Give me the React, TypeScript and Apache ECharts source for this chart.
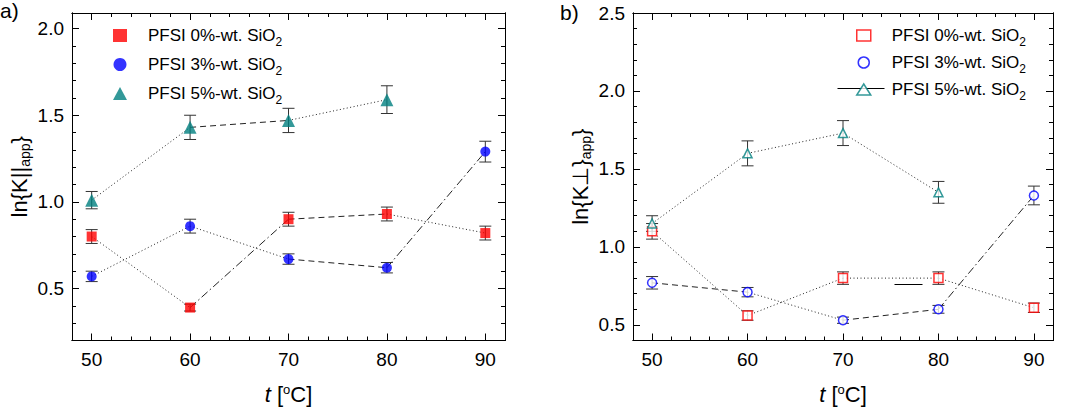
import { useEffect, useRef } from "react";
import * as echarts from "echarts";

const temps = [50, 60, 70, 80, 90];
const seriesNames = ["PFSI 0%-wt. SiO2", "PFSI 3%-wt. SiO2", "PFSI 5%-wt. SiO2"];
const colors = ["#ff0000", "#0000ff", "#008080"];

// panel a) parallel
const parRed = [0.8, 0.39, 0.9, 0.93, 0.82];
const parRedErr = [0.04, 0.02, 0.04, 0.04, 0.04];
const parBlue = [0.57, 0.86, 0.67, 0.62, 1.29];
const parBlueErr = [0.03, 0.04, 0.03, 0.03, 0.06];
const parTeal = [1.01, 1.43, 1.47, 1.59];
const parTealErr = [0.05, 0.07, 0.07, 0.08];
const parStyles = [
  ["dot", "dashdot", "dash", "dot"],
  ["dot", "dot", "dash", "dashdot"],
  ["dot", "dash", "dot"],
];

// panel b) perpendicular
const perRed = [1.1, 0.56, 0.8, 0.8, 0.61];
const perRedErr = [0.05, 0.03, 0.04, 0.04, 0.03];
const perBlue = [0.77, 0.71, 0.53, 0.6, 1.33];
const perBlueErr = [0.04, 0.03, 0.02, 0.025, 0.06];
const perTeal = [1.15, 1.6, 1.73, 1.35];
const perTealErr = [0.05, 0.08, 0.08, 0.07];
const perStyles = [
  ["dot", "dot", "dot", "dot"],
  ["dash", "dot", "dash", "dashdot"],
  ["dot", "dot", "dot"],
];

const xMajor = [50, 60, 70, 80, 90];
const xMinor = [48, 52, 54, 56, 58, 62, 64, 66, 68, 72, 74, 76, 78, 82, 84, 86, 88, 92];
const yMajorA = [0.5, 1.0, 1.5, 2.0];
const yMajorB = [0.5, 1.0, 1.5, 2.0, 2.5];

const dashes: Record<string, number[]> = {
  dot: [1, 2.5],
  dash: [6, 4],
  dashdot: [8, 3, 1.5, 3],
};

const font = "Liberation Sans, Arial, sans-serif";

function minorY(min: number, max: number) {
  const out: number[] = [];
  for (let i = Math.ceil(min * 10); i <= Math.floor(max * 10); i++) {
    if (i % 5 !== 0) out.push(i / 10);
  }
  return out;
}

export default function App() {
  const ref = useRef<HTMLDivElement | null>(null);

  useEffect(() => {
    if (!ref.current) return;
    const chart = echarts.init(ref.current, undefined, { renderer: "svg" });

    const xAxis: any[] = [];
    const yAxis: any[] = [];
    const series: any[] = [];
    const panels = [
      { grid: 0, ymin: 0.2, ymax: 2.09, major: yMajorA, data: [parRed, parBlue, parTeal], err: [parRedErr, parBlueErr, parTealErr], styles: parStyles, hollow: false },
      { grid: 1, ymin: 0.4, ymax: 2.5, major: yMajorB, data: [perRed, perBlue, perTeal], err: [perRedErr, perBlueErr, perTealErr], styles: perStyles, hollow: true },
    ];

    panels.forEach((p) => {
      const xBase = xAxis.length;
      const yBase = yAxis.length;
      ["bottom", "top"].forEach((pos) => {
        [true, false].forEach((major) => {
          xAxis.push({
            type: "value", gridIndex: p.grid, position: pos, min: 48, max: 92,
            axisLine: { show: true, onZero: false, lineStyle: { color: "#000", width: 1 } },
            axisTick: { show: true, inside: true, length: major ? 7 : 4, customValues: major ? xMajor : xMinor, lineStyle: { color: "#000" } },
            axisLabel: { show: major && pos === "bottom", customValues: xMajor, color: "#000", fontSize: 19, fontFamily: font, margin: 9 },
            splitLine: { show: false },
            name: major && pos === "bottom" ? "{i|t} [{sup|o}C]" : "",
            nameLocation: "middle", nameGap: 42,
            nameTextStyle: { fontSize: 22, fontFamily: font, color: "#000", rich: { i: { fontStyle: "italic", fontSize: 22, fontFamily: font }, sup: { fontSize: 13, verticalAlign: "top", padding: [0, 0, 10, 0], fontFamily: font } } },
          });
        });
      });
      ["left", "right"].forEach((pos) => {
        [true, false].forEach((major) => {
          yAxis.push({
            type: "value", gridIndex: p.grid, position: pos, min: p.ymin, max: p.ymax,
            axisLine: { show: true, onZero: false, lineStyle: { color: "#000", width: 1 } },
            axisTick: { show: true, inside: true, length: major ? 7 : 4, customValues: major ? p.major : minorY(p.ymin, p.ymax), lineStyle: { color: "#000" } },
            axisLabel: { show: major && pos === "left", customValues: p.major, color: "#000", fontSize: 19, fontFamily: font, formatter: (v: number) => v.toFixed(1) },
            splitLine: { show: false },
            name: major && pos === "left" ? (p.grid === 0 ? "{b|ln{K||}{s|app}}" : "ln{K⊥}{s|app}}") : "",
            nameLocation: "middle", nameGap: 40, nameRotate: 90,
            nameTextStyle: { fontSize: 22, fontFamily: font, color: "#000", rich: { b: { fontSize: 22, fontFamily: font, color: "#000" }, s: { fontSize: 14, fontFamily: font, padding: [12, 0, 0, 0] } } },
          });
        });
      });
      const xi = xBase;
      const yi = yBase;
      p.data.forEach((vals, si) => {
        const pts = vals.map((v, i) => [temps[i], v]);
        p.styles[si].forEach((st, k) => {
          series.push({
            type: "line", xAxisIndex: xi, yAxisIndex: yi, silent: true, symbol: "none",
            data: [pts[k], pts[k + 1]],
            lineStyle: { color: "#222", width: 1, type: dashes[st] },
            z: 1,
          });
        });
        series.push({
          type: "custom", xAxisIndex: xi, yAxisIndex: yi, silent: true, z: 2,
          data: vals.map((v, i) => [temps[i], v - p.err[si][i], v + p.err[si][i]]),
          renderItem: (_params: any, api: any) => {
            const lo = api.coord([api.value(0), api.value(1)]);
            const hi = api.coord([api.value(0), api.value(2)]);
            const w = 6;
            const st = { stroke: "#333", lineWidth: 1 };
            return {
              type: "group",
              children: [
                { type: "line", shape: { x1: lo[0], y1: lo[1], x2: hi[0], y2: hi[1] }, style: st },
                { type: "line", shape: { x1: lo[0] - w, y1: lo[1], x2: lo[0] + w, y2: lo[1] }, style: st },
                { type: "line", shape: { x1: hi[0] - w, y1: hi[1], x2: hi[0] + w, y2: hi[1] }, style: st },
              ],
            };
          },
        });
        series.push({
          name: seriesNames[si], type: "scatter", xAxisIndex: xi, yAxisIndex: yi, z: 3,
          symbol: ["rect", "circle", "triangle"][si],
          symbolSize: p.hollow ? 9 : [10, 10, 13][si],
          data: pts,
          itemStyle: p.hollow
            ? { color: "#fff", borderColor: colors[si], borderWidth: 1.5 }
            : { color: colors[si] },
        });
      });
    });

    const legendRich = { s: { fontSize: 12, fontFamily: font, padding: [13, 0, 0, 0] } };
    const fmt = (n: string) => n.replace("SiO2", "SiO{s|2}");
    const legendText = { fontSize: 17, fontFamily: font, color: "#000", padding: [0, 0, 0, 16], rich: legendRich };

    chart.setOption({
      animation: false,
      grid: [
        { left: 72, top: 13, width: 433, height: 330 },
        { left: 633, top: 13, width: 420, height: 331 },
      ],
      xAxis,
      yAxis,
      legend: [
        {
          left: 108, top: 22, orient: "vertical", itemGap: 8, itemWidth: 14, itemHeight: 13,
          data: seriesNames.map((n, i) => ({ name: n, itemStyle: { color: colors[i] } })),
          formatter: fmt, selectedMode: false, textStyle: legendText,
        },
        {
          left: 851, top: 22, orient: "vertical", itemGap: 6, itemWidth: 14, itemHeight: 11,
          data: seriesNames.map((n, i) => ({ name: n, itemStyle: { color: "#fff", borderColor: colors[i], borderWidth: 1.5 } })),
          formatter: fmt, selectedMode: false, textStyle: legendText,
        },
      ],
      graphic: [
        { type: "text", left: 0, top: 0, style: { text: "a)", fontSize: 21, fontFamily: font, fill: "#000" } },
        { type: "text", left: 560, top: 2, style: { text: "b)", fontSize: 21, fontFamily: font, fill: "#000" } },
        { type: "line", left: 835, top: 86, shape: { x1: 0, y1: 0, x2: 47, y2: 0 }, style: { stroke: "#000", lineWidth: 1 }, z: -1 },
        { type: "line", left: 892, top: 282, shape: { x1: 0, y1: 0, x2: 28, y2: 0 }, style: { stroke: "#000", lineWidth: 1 } },
      ],
      series,
    });

    return () => chart.dispose();
  }, []);

  return <div ref={ref} style={{ width: 1089, height: 410, position: "absolute", left: 0, top: 0, background: "#fff" }} />;
}
